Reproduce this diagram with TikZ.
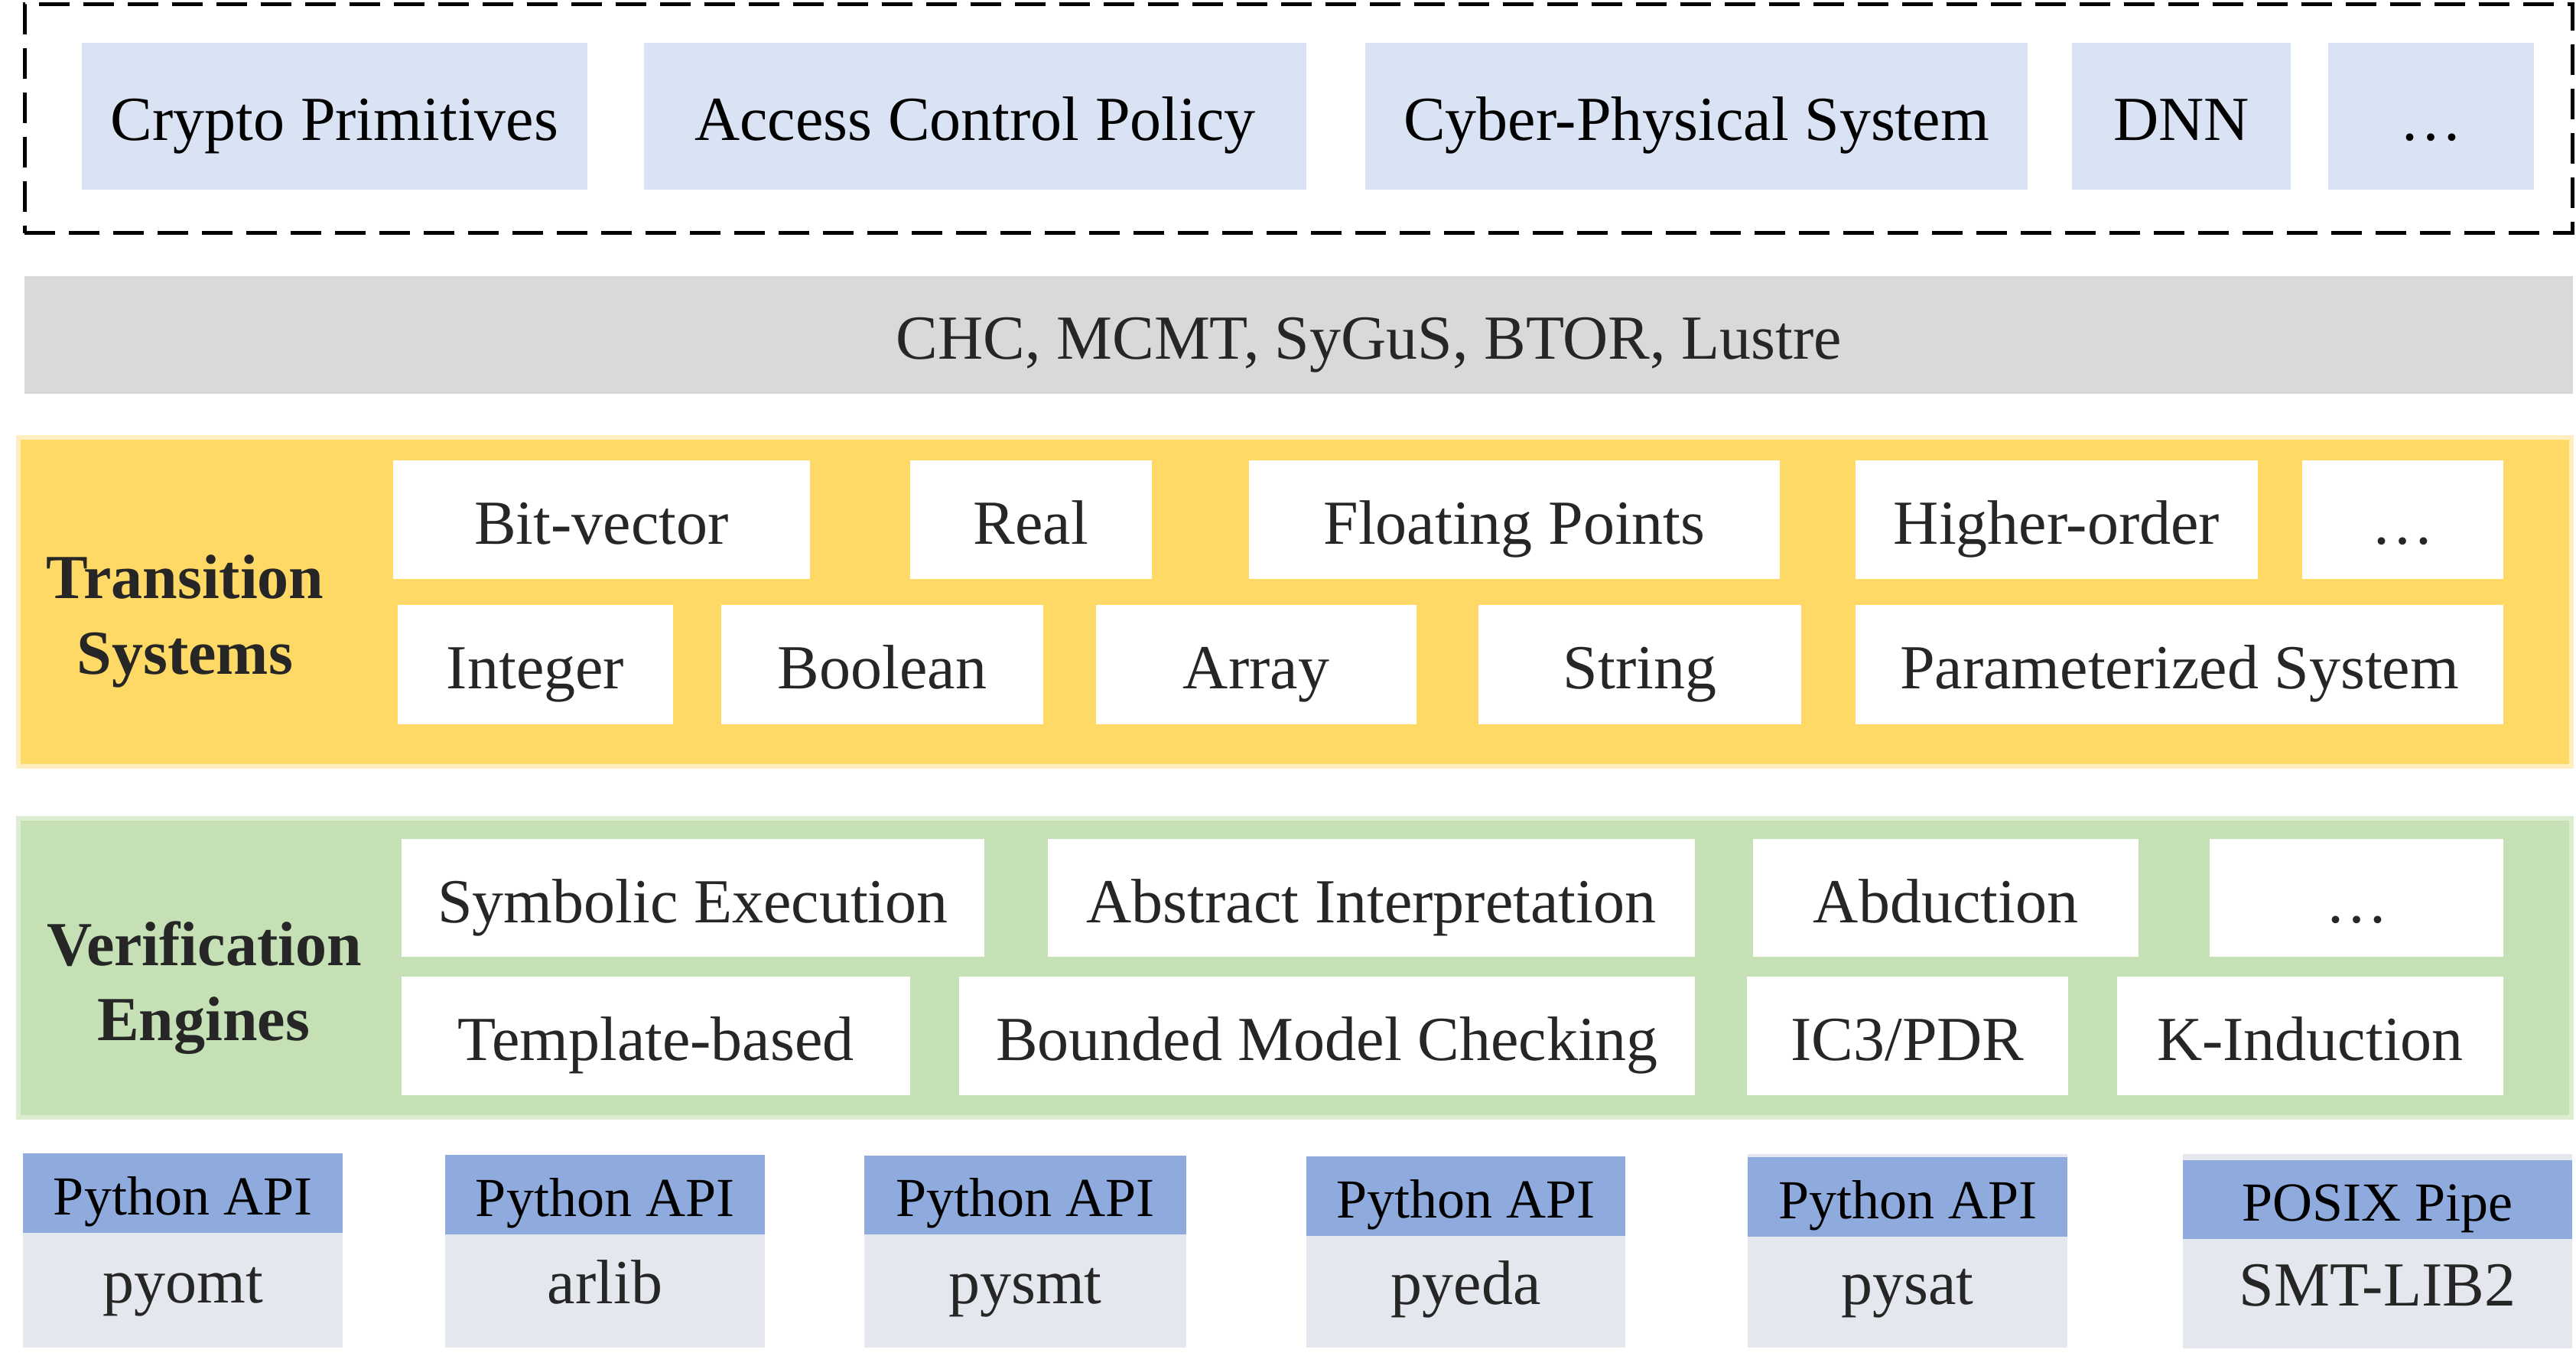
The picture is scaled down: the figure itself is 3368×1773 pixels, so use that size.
\documentclass[tikz,border=0pt]{standalone}
\usepackage{fontspec}
\setmainfont{Liberation Serif}
\definecolor{topblue}{HTML}{DAE3F3}
\definecolor{bandgray}{HTML}{D9D9D9}
\definecolor{goldfill}{HTML}{FFD966}
\definecolor{goldedge}{HTML}{FFEFC0}
\definecolor{vgreen}{HTML}{C5E0B4}
\definecolor{vgreenedge}{HTML}{DDEDD2}
\definecolor{hdrblue}{HTML}{8FAADC}
\definecolor{bodygray}{HTML}{E4E7EE}
\definecolor{txt}{HTML}{262626}
\newcommand\bx[7]{\node[#7, minimum width={(#4-#2)*0.25pt}, minimum height={(#5-#3)*0.25pt}] (#1) at (#2,#3) {#6};}
\tikzset{
  boxbase/.style={inner sep=0pt, outer sep=0pt, anchor=north west,
    font=\fontsize{20.5pt}{24pt}\selectfont, text height=19.5pt, text depth=3.5pt},
  topbox/.style={boxbase, fill=topblue, text=black},
  grayband/.style={boxbase, fill=bandgray, text=txt},
  goldband/.style={boxbase, fill=goldfill, draw=goldedge, line width=1.5pt},
  greenband/.style={boxbase, fill=vgreen, draw=vgreenedge, line width=1.5pt},
  whitebox/.style={boxbase, fill=white, text=txt},
  frame/.style={boxbase, draw=black, line width=1.25pt, dash pattern=on 10pt off 4.5pt},
  hdrbox/.style={boxbase, fill=hdrblue, text=black,
    font=\fontsize{18pt}{21pt}\selectfont, text height=17pt, text depth=3pt},
  bodybox/.style={boxbase, fill=bodygray, text=txt, text height=19pt, text depth=11pt},
  plainbox/.style={boxbase, fill=bodygray},
  bandtxt/.style={inner sep=0pt, outer sep=0pt, text=txt,
    font=\fontsize{20.5pt}{24pt}\selectfont, text height=19.5pt, text depth=3.5pt},
  lbl/.style={inner sep=0pt, outer sep=0pt, anchor=base, text=txt,
    font=\fontsize{20.5pt}{24pt}\selectfont\bfseries},
}
\begin{document}
\begin{tikzpicture}[x=0.25pt, y=-0.25pt]
\useasboundingbox (0,0) rectangle (3368,1773);
% application domains
\bx{frame}{32}{6}{3363}{305}{}{frame}
\bx{crypto}{107}{56}{768}{248}{Crypto Primitives}{topbox}
\bx{access}{842}{56}{1708}{248}{Access Control Policy}{topbox}
\bx{cps}{1785}{56}{2651}{248}{Cyber-Physical System}{topbox}
\bx{dnn}{2709}{56}{2995}{248}{DNN}{topbox}
\bx{dotsA}{3044}{56}{3313}{248}{…}{topbox}
% formats
\bx{formats}{32}{361}{3364}{515}{}{grayband}
\node[bandtxt, xshift=23pt] (formatstxt) at (formats.center) {CHC, MCMT, SyGuS, BTOR, Lustre};
% transition systems
\bx{ts}{24}{572}{3362}{1002}{}{goldband}
\node[lbl] (tsA) at (242,783) {Transition};
\node[lbl] (tsB) at (242,882) {Systems};
\bx{bv}{514}{602}{1059}{757}{Bit-vector}{whitebox}
\bx{real}{1190}{602}{1506}{757}{Real}{whitebox}
\bx{fp}{1633}{602}{2327}{757}{Floating Points}{whitebox}
\bx{ho}{2426}{602}{2952}{757}{Higher-order}{whitebox}
\bx{dotsB}{3010}{602}{3273}{757}{…}{whitebox}
\bx{int}{520}{791}{880}{947}{Integer}{whitebox}
\bx{bool}{943}{791}{1364}{947}{Boolean}{whitebox}
\bx{arr}{1433}{791}{1852}{947}{Array}{whitebox}
\bx{str}{1933}{791}{2355}{947}{String}{whitebox}
\bx{param}{2426}{791}{3273}{947}{Parameterized System}{whitebox}
% verification engines
\bx{ve}{24}{1070}{3362}{1461}{}{greenband}
\node[lbl] (veA) at (267,1262) {Verification};
\node[lbl] (veB) at (266,1360) {Engines};
\bx{sym}{525}{1097}{1287}{1251}{Symbolic Execution}{whitebox}
\bx{absi}{1370}{1097}{2216}{1251}{Abstract Interpretation}{whitebox}
\bx{abd}{2292}{1097}{2796}{1251}{Abduction}{whitebox}
\bx{dotsC}{2889}{1097}{3273}{1251}{…}{whitebox}
\bx{tmpl}{525}{1277}{1190}{1432}{Template-based}{whitebox}
\bx{bmc}{1254}{1277}{2216}{1432}{Bounded Model Checking}{whitebox}
\bx{ic3}{2284}{1277}{2704}{1432}{IC3/PDR}{whitebox}
\bx{kind}{2768}{1277}{3273}{1432}{K-Induction}{whitebox}
% interfaces
\bx{bodyA}{30}{1612}{448}{1762}{pyomt}{bodybox}
\bx{hdrA}{30}{1508}{448}{1612}{Python API}{hdrbox}
\bx{bodyB}{582}{1614}{1000}{1762}{arlib}{bodybox}
\bx{hdrB}{582}{1510}{1000}{1614}{Python API}{hdrbox}
\bx{bodyC}{1130}{1614}{1551}{1762}{pysmt}{bodybox}
\bx{hdrC}{1130}{1511}{1551}{1614}{Python API}{hdrbox}
\bx{bodyD}{1708}{1616}{2125}{1762}{pyeda}{bodybox}
\bx{hdrD}{1708}{1512}{2125}{1616}{Python API}{hdrbox}
\bx{topE}{2285}{1509}{2703}{1513}{}{plainbox}
\bx{bodyE}{2285}{1617}{2703}{1762}{pysat}{bodybox}
\bx{hdrE}{2285}{1513}{2703}{1617}{Python API}{hdrbox}
\bx{topF}{2854}{1509}{3363}{1517}{}{plainbox}
\bx{bodyF}{2854}{1620}{3363}{1763}{SMT-LIB2}{bodybox}
\bx{hdrF}{2854}{1517}{3363}{1620}{POSIX Pipe}{hdrbox}
\end{tikzpicture}
\end{document}
